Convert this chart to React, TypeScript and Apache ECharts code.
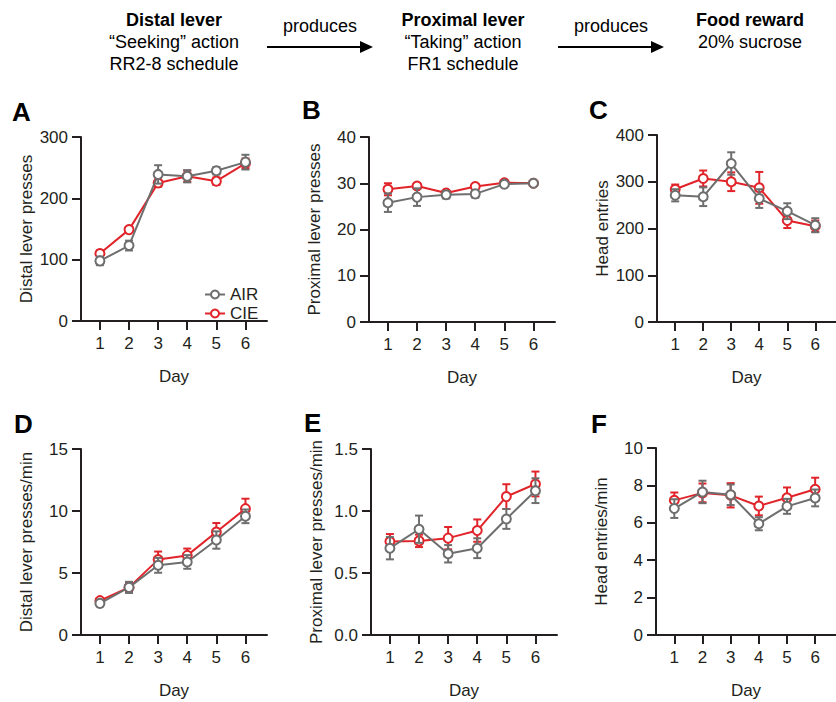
import React, { useEffect, useRef } from "react";
import * as echarts from "echarts";

const days = [1, 2, 3, 4, 5, 6];

// Panel A: Distal lever presses
const aAir = [98, 123, 239, 236, 245, 259];
const aAirSem = [7, 8, 15, 10, 6, 12];
const aCie = [110, 149, 225, 236, 228, 257];
const aCieSem = [5, 4, 6, 9, 6, 8];
// Panel B: Proximal lever presses
const bAir = [25.8, 27.0, 27.5, 27.7, 29.8, 30.0];
const bAirSem = [2.0, 1.9, 0.8, 0.8, 0.3, 0.2];
const bCie = [28.7, 29.4, 27.9, 29.3, 30.1, 30.0];
const bCieSem = [1.3, 0.5, 0.4, 0.4, 0.3, 0.1];
// Panel C: Head entries
const cAir = [271, 268, 339, 264, 237, 207];
const cAirSem = [13, 20, 24, 20, 17, 15];
const cCie = [284, 307, 300, 287, 217, 205];
const cCieSem = [10, 17, 20, 34, 16, 12];
// Panel D: Distal lever presses/min
const dAir = [2.55, 3.84, 5.62, 5.89, 7.66, 9.57];
const dAirSem = [0.25, 0.45, 0.6, 0.55, 0.7, 0.55];
const dCie = [2.77, 3.84, 6.08, 6.42, 8.31, 10.19];
const dCieSem = [0.2, 0.35, 0.65, 0.55, 0.72, 0.8];
// Panel E: Proximal lever presses/min
const eAir = [0.7, 0.853, 0.655, 0.7, 0.936, 1.164];
const eAirSem = [0.09, 0.11, 0.07, 0.08, 0.08, 0.1];
const eCie = [0.754, 0.759, 0.781, 0.842, 1.116, 1.218];
const eCieSem = [0.06, 0.05, 0.09, 0.09, 0.1, 0.1];
// Panel F: Head entries/min
const fAir = [6.76, 7.65, 7.5, 5.95, 6.88, 7.33];
const fAirSem = [0.5, 0.6, 0.55, 0.35, 0.4, 0.45];
const fCie = [7.2, 7.6, 7.47, 6.9, 7.34, 7.79];
const fCieSem = [0.42, 0.5, 0.65, 0.5, 0.55, 0.62];

const yNames = [
  "Distal lever presses",
  "Proximal lever presses",
  "Head entries",
  "Distal lever presses/min",
  "Proximal lever presses/min",
  "Head entries/min",
];
const yMax = [300, 40, 400, 15, 1.5, 10];
const yInterval = [100, 10, 100, 5, 0.5, 2];
const panelLetters = ["A", "B", "C", "D", "E", "F"];
const groupNames = ["AIR", "CIE"];

const FONT = "Liberation Sans, Arial, Helvetica, sans-serif";
const INK = "#231f20";
const GRAY = "#6e6e6e";
const RED = "#e0242a";

// layout (pixels)
const grids = [
  { left: 81, top: 137, width: 186, height: 184 },
  { left: 369, top: 137, width: 186, height: 185 },
  { left: 657, top: 135, width: 186, height: 187 },
  { left: 81, top: 449, width: 186, height: 186 },
  { left: 371, top: 449, width: 186, height: 186 },
  { left: 656, top: 448, width: 186, height: 187 },
];
const letterPos = [
  [12, 112],
  [302, 110],
  [589, 110],
  [14, 424],
  [304, 423],
  [591, 424],
];

function errSeries(name: string, idx: number, mean: number[], sem: number[], color: string, z: number) {
  return {
    type: "custom",
    name,
    xAxisIndex: idx,
    yAxisIndex: idx,
    z,
    silent: true,
    data: days.map((d, i) => [d, mean[i] - sem[i], mean[i] + sem[i]]),
    renderItem: (params: any, api: any) => {
      const x = api.value(0);
      const lo = api.coord([x, api.value(1)]);
      const hi = api.coord([x, api.value(2)]);
      const w = 4;
      const st = { stroke: color, lineWidth: 2 };
      return {
        type: "group",
        children: [
          { type: "line", shape: { x1: lo[0], y1: lo[1], x2: hi[0], y2: hi[1] }, style: st },
          { type: "line", shape: { x1: lo[0] - w, y1: lo[1], x2: lo[0] + w, y2: lo[1] }, style: st },
          { type: "line", shape: { x1: hi[0] - w, y1: hi[1], x2: hi[0] + w, y2: hi[1] }, style: st },
        ],
      };
    },
  };
}

function lineSeries(name: string, idx: number, mean: number[], color: string, z: number) {
  return {
    type: "line",
    name,
    xAxisIndex: idx,
    yAxisIndex: idx,
    z,
    color,
    symbol: "emptyCircle",
    symbolSize: 9,
    itemStyle: { borderWidth: 2, color },
    lineStyle: { color, width: 2 },
    data: days.map((d, i) => [d, mean[i]]),
  };
}

export default function App() {
  const ref = useRef<HTMLDivElement>(null);
  useEffect(() => {
    if (!ref.current) return;
    const chart = echarts.init(ref.current, null, { renderer: "svg" });
    const airData = [aAir, bAir, cAir, dAir, eAir, fAir];
    const airSem = [aAirSem, bAirSem, cAirSem, dAirSem, eAirSem, fAirSem];
    const cieData = [aCie, bCie, cCie, dCie, eCie, fCie];
    const cieSem = [aCieSem, bCieSem, cCieSem, dCieSem, eCieSem, fCieSem];

    const series: any[] = [];
    for (let i = 0; i < 6; i++) {
      series.push(lineSeries(groupNames[0], i, airData[i], GRAY, 5));
      series.push(lineSeries(groupNames[1], i, cieData[i], RED, 3));
      series.push(errSeries(groupNames[0] + " err", i, airData[i], airSem[i], GRAY, 4));
      series.push(errSeries(groupNames[1] + " err", i, cieData[i], cieSem[i], RED, 2));
    }

    const axisLine = { show: true, lineStyle: { color: INK, width: 2 } };
    const xAxis = grids.map((_, i) => ({
      type: "value",
      gridIndex: i,
      min: 0.35,
      max: 6.74,
      name: "Day",
      nameLocation: "middle",
      nameGap: 47,
      nameTextStyle: { fontSize: 17, color: INK, fontFamily: FONT },
      axisLine,
      axisTick: { show: true, length: 9, customValues: days, lineStyle: { color: INK, width: 2 } },
      axisLabel: { customValues: days, fontSize: 17, color: INK, fontFamily: FONT, margin: 14 },
      splitLine: { show: false },
    }));
    const yAxis = grids.map((_, i) => ({
      type: "value",
      gridIndex: i,
      min: 0,
      max: yMax[i],
      interval: yInterval[i],
      name: yNames[i],
      nameLocation: "middle",
      nameGap: 46,
      nameRotate: 90,
      nameTextStyle: { fontSize: 17, color: INK, fontFamily: FONT },
      axisLine,
      axisTick: { show: true, length: 9, lineStyle: { color: INK, width: 2 } },
      axisLabel: {
        fontSize: 17,
        color: INK,
        fontFamily: FONT,
        margin: 13,
        formatter: (v: number) => (i === 4 ? v.toFixed(1) : String(v)),
      },
      splitLine: { show: false },
    }));

    const graphic: any[] = [];
    panelLetters.forEach((l, i) => {
      graphic.push({
        type: "text",
        x: letterPos[i][0],
        y: letterPos[i][1],
        style: { text: l, font: `bold 26px ${FONT}`, fill: "#000", textVerticalAlign: "middle" },
      });
    });
    const header = [
      { x: 174, lines: ["Distal lever", "“Seeking” action", "RR2-8 schedule"] },
      { x: 463, lines: ["Proximal lever", "“Taking” action", "FR1 schedule"] },
      { x: 750, lines: ["Food reward", "20% sucrose"] },
    ];
    header.forEach((h) => {
      h.lines.forEach((t, j) => {
        graphic.push({
          type: "text",
          x: h.x,
          y: 20 + j * 22,
          style: {
            text: t,
            font: `${j === 0 ? "bold " : ""}18px ${FONT}`,
            fill: "#000",
            textAlign: "center",
            textVerticalAlign: "middle",
          },
        });
      });
    });
    const arrows = [
      { x1: 267, x2: 373, cx: 320 },
      { x1: 558, x2: 664, cx: 611 },
    ];
    arrows.forEach((a) => {
      graphic.push({
        type: "text",
        x: a.cx,
        y: 26,
        style: { text: "produces", font: `18px ${FONT}`, fill: "#000", textAlign: "center", textVerticalAlign: "middle" },
      });
      graphic.push({
        type: "line",
        shape: { x1: a.x1, y1: 47, x2: a.x2 - 8, y2: 47 },
        style: { stroke: "#000", lineWidth: 2 },
      });
      graphic.push({
        type: "polygon",
        shape: { points: [[a.x2 - 13, 41], [a.x2, 47], [a.x2 - 13, 53]] },
        style: { fill: "#000" },
      });
    });

    chart.setOption({
      animation: false,
      backgroundColor: "#fff",
      textStyle: { fontFamily: FONT },
      grid: grids.map((g) => ({ ...g, containLabel: false })),
      xAxis,
      yAxis,
      legend: {
        data: groupNames,
        orient: "vertical",
        left: 204,
        top: 286,
        itemWidth: 20,
        itemHeight: 10,
        itemGap: 2,
        padding: 0,
        textStyle: { fontSize: 17, lineHeight: 15, color: INK, fontFamily: FONT },
      },
      series,
      graphic,
    });
    return () => chart.dispose();
  }, []);
  return <div ref={ref} style={{ position: "fixed", left: 0, top: 0, width: 836, height: 702 }} />;
}
